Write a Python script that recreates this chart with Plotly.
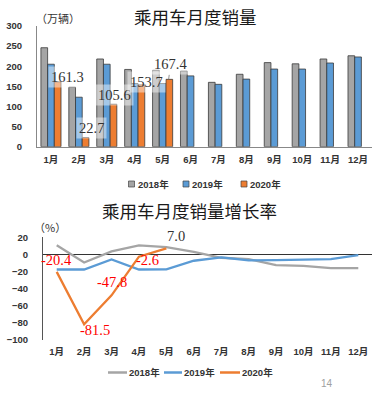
import plotly.graph_objects as go

W, H = 379, 397

# ---------------- data ----------------
months = ["1月", "2月", "3月", "4月", "5月", "6月", "7月", "8月", "9月", "10月", "11月", "12月"]
years = ["2018年", "2019年", "2020年"]
sales_2018 = [246, 148, 218, 192, 190, 188, 160, 180, 209, 206, 218, 226]
sales_2019 = [205, 123, 205, 157, 157, 176, 155, 168, 193, 193, 208, 223]
sales_2020 = [161.3, 22.7, 105.6, 153.7, 167.4, None, None, None, None, None, None, None]
growth_2018 = [10.6, -9.4, 3.5, 10.6, 8.5, 3.0, -3.9, -5.5, -12.5, -13.3, -16.0, -16.0]
growth_2019 = [-17.6, -17.6, -5.9, -17.6, -17.4, -7.4, -3.5, -7.0, -6.6, -5.9, -5.5, -0.8]
growth_2020 = [-20.4, -81.5, -47.8, -2.6, 7.0, None, None, None, None, None, None, None]
sales_ticks = [0, 50, 100, 150, 200, 250, 300]
growth_ticks = [-100, -80, -60, -40, -20, 0, 20]

colors = ["#A5A5A5", "#5B9BD5", "#ED7D31"]

# label offsets (pixels) for value labels
sales_label_shift = [(17, 5), (13, 10), (8, 9), (12, 3), (8, 15)]
growth_label_shift = [(0, 12), (11, -6), (0, 13), (9, -3), (10, 12)]


def px(x):
    return x / W


def py(y):
    return 1 - y / H


fig = go.Figure()

for name, vals, c in zip(years, [sales_2018, sales_2019, sales_2020], colors):
    fig.add_trace(go.Bar(x=months, y=vals, name=name, marker=dict(color=c, line=dict(color="#3a3a3a", width=0.8)),
                         xaxis="x", yaxis="y", showlegend=False, hoverinfo="skip"))

for name, vals, c in zip(years, [growth_2018, growth_2019, growth_2020], colors):
    fig.add_trace(go.Scatter(x=months, y=vals, name=name, mode="lines", line=dict(color=c, width=2.3),
                             xaxis="x2", yaxis="y2", showlegend=False, hoverinfo="skip"))

tick_font = dict(family="Liberation Sans, Noto Sans CJK SC", size=9.5, color="#333333", weight="bold")
label_font_family = "Liberation Serif, DejaVu Serif"
cat_range = [-0.5, len(months) - 0.5]

fig.update_layout(
    width=W, height=H, margin=dict(l=0, r=0, t=0, b=0, autoexpand=False),
    paper_bgcolor="white", plot_bgcolor="white",
    barmode="group", bargap=0.28, bargroupgap=0,
    xaxis=dict(domain=[px(37), px(372)], anchor="y", range=cat_range, showline=True, linecolor="#888888",
               linewidth=1, ticks="", showgrid=False, tickfont=tick_font, ticklabelstandoff=4, automargin=False),
    yaxis=dict(domain=[py(146.7), py(26)], anchor="x", range=[0, 300], tickvals=sales_ticks,
               showline=True, linecolor="#888888", linewidth=1, showgrid=False, zeroline=False,
               ticks="", tickfont=tick_font, ticklabelstandoff=12, automargin=False),
    xaxis2=dict(domain=[px(43), px(372)], anchor="y2", range=cat_range, showline=False, ticks="",
                showgrid=False, tickfont=tick_font, ticklabelstandoff=4, automargin=False),
    yaxis2=dict(domain=[py(340), py(237.3)], anchor="x2", range=[-100, 20], tickvals=growth_ticks,
                showline=True, linecolor="#555555", linewidth=1, showgrid=False,
                zeroline=True, zerolinecolor="#333333", zerolinewidth=1,
                ticks="", tickfont=tick_font, ticklabelstandoff=12, automargin=False),
)

ann = []


def paper_text(text, x, y, size, color="#333333", family="Noto Sans CJK SC", xanchor="center", weight="normal"):
    return dict(text=text, x=px(x), y=py(y), xref="paper", yref="paper", showarrow=False,
                xanchor=xanchor, yanchor="middle",
                font=dict(family=family, size=size, color=color, weight=weight))


# titles
ann.append(paper_text("乘用车月度销量", 195, 16, 17.5, "#1a1a1a"))
ann.append(paper_text("乘用车月度销量增长率", 189, 210, 17.5, "#1a1a1a"))
ann.append(paper_text("（万辆）", 34, 18, 11, xanchor="left"))
ann.append(paper_text("（%）", 32, 227, 11, xanchor="left"))
ann.append(paper_text("14", 327, 383, 10, "#a0a0a0", family="Liberation Sans"))

# sales labels
for i, v in enumerate(sales_2020):
    if v is None:
        continue
    dx, dy = sales_label_shift[i]
    a = dict(text=f"{v:.1f}", x=months[i], y=v, xref="x", yref="y", xshift=dx, yshift=dy, showarrow=False,
             bgcolor="rgba(255,255,255,0.45)", borderpad=2,
             font=dict(family=label_font_family, size=14.5, color="#333333"))
    if i == 4:
        a.update(showarrow=True, xshift=6, yshift=0, ax=2, ay=-15, arrowhead=0, arrowwidth=0.8,
                 arrowcolor="#777777", standoff=0)
    ann.append(a)

# growth labels
for i, v in enumerate(growth_2020):
    if v is None:
        continue
    dx, dy = growth_label_shift[i]
    ann.append(dict(text=f"{v:.1f}", x=months[i], y=v, xref="x2", yref="y2", xshift=dx, yshift=dy,
                    showarrow=False,
                    font=dict(family=label_font_family, size=14.5, color="#FF0000" if v < 5 else "#333333")))

# legends
leg_family = "Liberation Sans, Noto Sans CJK SC"
shapes = []
sq_x = [131.5, 186, 244]
for xs, name, c in zip(sq_x, years, colors):
    shapes.append(dict(type="rect", xref="paper", yref="paper", x0=px(xs - 3), x1=px(xs + 3),
                       y0=py(184 + 3), y1=py(184 - 3), fillcolor=c, line=dict(color="#444444", width=0.7)))
    ann.append(paper_text(name, xs + 4, 184, 9.5, family=leg_family, xanchor="left", weight="bold"))
ln_x = [(108, 127), (164, 182), (220, 240)]
for (x0, x1), name, c in zip(ln_x, years, colors):
    shapes.append(dict(type="line", xref="paper", yref="paper", x0=px(x0), x1=px(x1), y0=py(372.5), y1=py(372.5),
                       line=dict(color=c, width=2.5)))
    ann.append(paper_text(name, x1, 372.5, 9.5, family=leg_family, xanchor="left", weight="bold"))

fig.update_layout(annotations=ann, shapes=shapes)
fig.write_html("out.html", config={"displayModeBar": False, "staticPlot": True},
               post_script="document.body.style.margin='0';document.body.style.overflow='hidden';")
